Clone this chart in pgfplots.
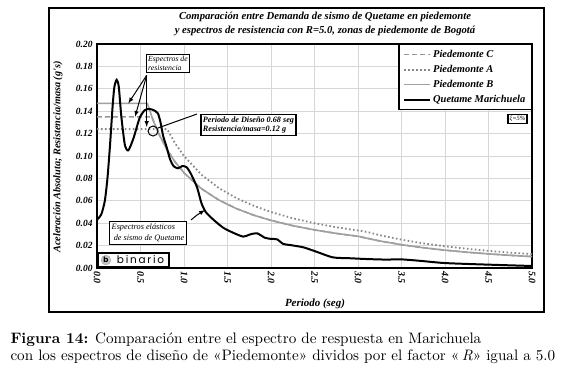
\documentclass[border=0pt]{standalone}
\usepackage{fontspec}
\usepackage{pgfplots}
\pgfplotsset{compat=1.18}
\newfontfamily\chartfont{Liberation Serif}
\newfontfamily\logofont{Poppins}
\newfontfamily\capfont{lmroman10-regular}[Extension=.otf, BoldFont=lmroman10-bold, ItalicFont=lmroman10-italic]
\definecolor{gB}{RGB}{160,160,160}
\definecolor{gC}{RGB}{150,150,150}
\definecolor{gA}{RGB}{135,135,135}
\definecolor{gridc}{RGB}{215,215,215}
\newcommand{\cf}{\chartfont\bfseries\itshape}
\begin{document}
\begin{tikzpicture}[x=1bp,y=1bp]
\useasboundingbox (0,0) rectangle (580,377);
\draw[line width=2pt] (49,65) rectangle (544,369);
\node[font=\cf\fontsize{10.7}{14}\selectfont, align=center] at (325,353)
  {Comparación entre Demanda de sismo de Quetame en piedemonte\\y espectros de resistencia con R=5.0, zonas de piedemonte de Bogotá};
\node[font=\cf\fontsize{10.3}{11}\selectfont, rotate=90] at (58,220) {Aceleración Absoluta; Resistencia/masa (g's)};
\node[font=\cf\fontsize{11}{12}\selectfont] at (315,73) {Periodo (seg)};
\begin{axis}[
  at={(97bp,109bp)}, anchor=south west, scale only axis,
  width=435bp, height=224bp,
  xmin=0, xmax=5, ymin=0, ymax=0.2,
  xtick distance=0.5, ytick distance=0.02,
  grid=major, major grid style={gridc, line width=0.7pt},
  axis line style={line width=1.8pt},
  major tick length=0pt,
  clip=false,
  /pgf/number format/assume math mode=true,
  ticklabel style={font=\cf\fontsize{9.5}{10}\selectfont},
  yticklabel style={/pgf/number format/fixed, /pgf/number format/fixed zerofill, /pgf/number format/precision=2, xshift=-1pt},
  xticklabel style={/pgf/number format/fixed, /pgf/number format/fixed zerofill, /pgf/number format/precision=1, rotate=-90, anchor=west, font=\cf\fontsize{10}{10}\selectfont},
  legend cell align=left,
  legend style={at={(rel axis cs:1,1)}, anchor=north east, draw=black, line width=1.5pt,
    font=\cf\fontsize{10.5}{12}\selectfont, row sep=2.3pt, inner ysep=3.5pt, inner xsep=4pt},
  legend image code/.code={\draw[#1] (0cm,0cm) -- (0.92cm,0cm);},
]
\addplot[gC, line width=1.6pt, dash pattern=on 5pt off 3pt] coordinates {
(0,0.135)(0.63,0.135)(0.7,0.1214)(0.8,0.1063)(0.9,0.0944)(1.0,0.085)(1.2,0.0708)(1.4,0.0607)(1.6,0.0531)(1.8,0.0472)(2.0,0.0425)(2.25,0.0378)(2.5,0.034)(2.75,0.0309)(3.0,0.0283)(3.25,0.0241)(3.5,0.0208)(3.75,0.0181)(4.0,0.0159)(4.25,0.0141)(4.5,0.0126)(4.75,0.0113)(5.0,0.0102)};
\addlegendentry{Piedemonte C}
\addplot[gA, line width=1.8pt, dash pattern=on 1.6pt off 2.4pt] coordinates {
(0,0.124)(0.806,0.124)(0.9,0.1111)(1.0,0.1)(1.2,0.0833)(1.4,0.0714)(1.6,0.0625)(1.8,0.0556)(2.0,0.05)(2.25,0.0444)(2.5,0.04)(2.75,0.0364)(3.1,0.0323)(3.25,0.0293)(3.5,0.0253)(3.75,0.0220)(4.0,0.0194)(4.25,0.0172)(4.5,0.0153)(4.75,0.0137)(5.0,0.0124)};
\addlegendentry{Piedemonte A}
\addplot[gB, line width=1.6pt] coordinates {
(0,0.147)(0.578,0.147)(0.65,0.1308)(0.7,0.1214)(0.8,0.1063)(0.9,0.0944)(1.0,0.085)(1.2,0.0708)(1.4,0.0607)(1.6,0.0531)(1.8,0.0472)(2.0,0.0425)(2.25,0.0378)(2.5,0.034)(2.75,0.0309)(3.0,0.0283)(3.25,0.0241)(3.5,0.0208)(3.75,0.0181)(4.0,0.0159)(4.25,0.0141)(4.5,0.0126)(4.75,0.0113)(5.0,0.0102)};
\addlegendentry{Piedemonte B}
\addplot[black, line width=2pt, smooth, tension=0.4] coordinates {
(0,0.043)(0.05,0.048)(0.09,0.06)(0.12,0.08)(0.15,0.11)(0.18,0.145)(0.2,0.162)(0.226,0.168)(0.25,0.162)(0.28,0.135)(0.32,0.11)(0.36,0.105)(0.42,0.116)(0.49,0.134)(0.55,0.141)(0.60,0.142)(0.65,0.141)(0.70,0.138)(0.73,0.130)(0.76,0.118)(0.80,0.108)(0.84,0.097)(0.88,0.091)(0.93,0.089)(0.98,0.091)(1.03,0.090)(1.08,0.084)(1.15,0.072)(1.20,0.058)(1.25,0.050)(1.34,0.043)(1.45,0.036)(1.55,0.032)(1.68,0.028)(1.76,0.030)(1.84,0.031)(1.93,0.027)(2.0,0.026)(2.07,0.0256)(2.14,0.0215)(2.22,0.0205)(2.37,0.0185)(2.52,0.0146)(2.71,0.0095)(2.91,0.0087)(3.10,0.008)(3.33,0.0075)(3.48,0.0078)(3.7,0.0065)(3.98,0.0045)(4.3,0.0035)(4.7,0.0025)(5.0,0.0018)};
\addlegendentry{Quetame Marichuela}
% annotations
\node[draw, line width=1.3pt, fill=white, align=left, inner sep=2pt, font=\chartfont\itshape\fontsize{7.8}{8.8}\selectfont] (er) at (axis cs:0.816,0.1826) {Espectros de\\resistencia};
\draw[-latex, line width=1pt] (axis cs:0.571,0.172) -- (axis cs:0.36,0.147);
\draw[-latex, line width=1pt] (axis cs:0.571,0.172) -- (axis cs:0.437,0.135);
\draw[-latex, line width=1pt] (axis cs:0.571,0.172) -- (axis cs:0.571,0.126);
\draw[line width=1pt] (axis cs:0.644,0.1223) circle (5bp);
\draw[line width=1pt] (axis cs:0.70,0.125) -- (axis cs:1.15,0.1375);
\node[draw, line width=1.3pt, fill=white, align=left, inner sep=2pt, font=\cf\fontsize{8.2}{9.8}\selectfont] at (axis cs:1.741,0.1277) {Periodo de Diseño 0.68 seg\\Resistencia/masa=0.12 g};
\node[draw, line width=1.3pt, fill=white, align=left, inner sep=2.5pt, font=\chartfont\itshape\fontsize{8.3}{10.5}\selectfont] at (axis cs:0.586,0.03125) {Espectros elásticos\\\ de sismo de Quetame};
\draw[-latex, line width=1pt] (axis cs:1.08,0.0429) -- (axis cs:1.15,0.0473) -- (axis cs:1.24,0.0518);
\draw[line width=1.5pt, fill=white] (axis cs:0.0115,0.0134) rectangle (axis cs:0.828,0.0009);
\node[circle, fill=gray!45, draw=gray!70, inner sep=0.8pt, text=black, font=\logofont\bfseries\fontsize{7.5}{7.5}\selectfont] at (axis cs:0.103,0.0071) {b};
\node[font=\logofont\fontsize{10.5}{11}\selectfont] at (axis cs:0.50,0.0071) {b\,i\,n\,a\,r\,i\,o};
\node[draw, line width=1.3pt, fill=white, inner sep=1.5pt, font=\chartfont\itshape\fontsize{6.5}{7}\selectfont] at (axis cs:4.833,0.133) {ξ=5\%};
\end{axis}
\node[anchor=base west, font=\capfont\fontsize{15.2}{17}\selectfont] at (7,34) {\textbf{Figura 14:} Comparación entre el espectro de respuesta en Marichuela};
\node[anchor=base west, font=\capfont\fontsize{15.2}{17}\selectfont] at (7,17) {con los espectros de diseño de «Piedemonte» dividos por el factor «\,\textit{R}» igual a 5.0};
\end{tikzpicture}
\end{document}
